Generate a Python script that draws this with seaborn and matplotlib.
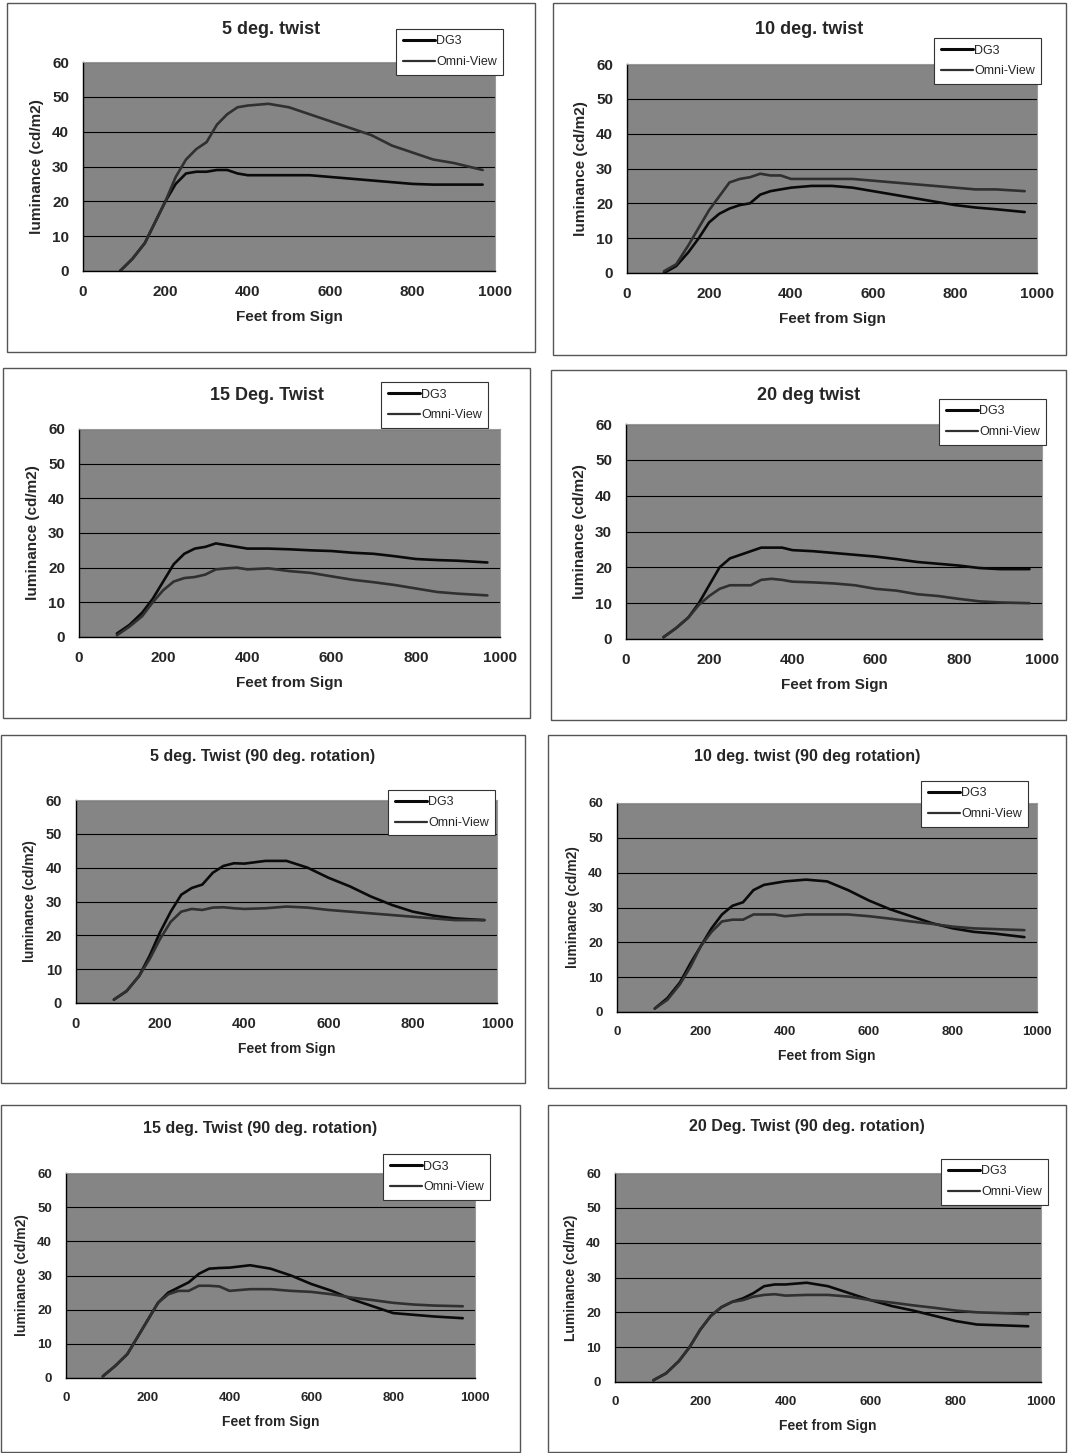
import numpy as np
import pandas as pd
import seaborn as sns
import matplotlib.pyplot as plt
from matplotlib.patches import Rectangle
from matplotlib.lines import Line2D

# distance from sign (ft), shared by every panel
feet = [90, 120, 150, 175, 200, 225, 250, 275, 300, 325, 350, 375,
        400, 450, 500, 550, 600, 650, 700, 750, 800, 850, 900, 970]

titles = ["5 deg. twist", "10 deg. twist", "15 Deg. Twist", "20 deg twist",
          "5 deg. Twist (90 deg. rotation)", "10 deg. twist (90 deg rotation)",
          "15 deg. Twist (90 deg. rotation)", "20 Deg. Twist (90 deg. rotation)"]
ylabels = ["luminance (cd/m2)"] * 7 + ["Luminance (cd/m2)"]

dg3_5 = [0, 3.5, 8, 14, 20, 25, 28, 28.5, 28.5, 29, 29, 28, 27.5, 27.5, 27.5, 27.5, 27, 26.5, 26, 25.5, 25, 24.8, 24.8, 24.8]
omni_5 = [0, 3.5, 8, 14, 20, 27, 32, 35, 37, 42, 45, 47, 47.5, 48, 47, 45, 43, 41, 39, 36, 34, 32, 31, 29]
dg3_10 = [0, 2, 6, 10, 14.5, 17, 18.5, 19.5, 20, 22.5, 23.5, 24, 24.5, 25, 25, 24.5, 23.5, 22.5, 21.5, 20.5, 19.5, 18.8, 18.3, 17.5]
omni_10 = [0.5, 2.5, 8, 13, 18, 22, 26, 27, 27.5, 28.5, 28, 28, 27, 27, 27, 27, 26.5, 26, 25.5, 25, 24.5, 24, 24, 23.5]
dg3_15 = [1, 3.5, 7, 11, 16, 21, 24, 25.5, 26, 27, 26.5, 26, 25.5, 25.5, 25.3, 25, 24.8, 24.3, 24, 23.3, 22.5, 22.2, 22, 21.5]
omni_15 = [0.5, 3, 6, 10, 13.5, 16, 17, 17.3, 18, 19.5, 19.8, 20, 19.5, 19.8, 19, 18.5, 17.5, 16.5, 15.8, 15, 14, 13, 12.5, 12]
dg3_20 = [0.5, 3, 6, 10, 15, 20, 22.5, 23.5, 24.5, 25.5, 25.5, 25.5, 24.8, 24.5, 24, 23.5, 23, 22.3, 21.5, 21, 20.5, 19.8, 19.5, 19.5]
omni_20 = [0.5, 3, 6, 9.5, 12, 14, 15, 15, 15, 16.5, 16.8, 16.5, 16, 15.8, 15.5, 15, 14, 13.5, 12.5, 12, 11.2, 10.5, 10.2, 10]
dg3_5r = [1, 3.5, 8, 14, 21, 27, 32, 34, 35, 38.5, 40.5, 41.3, 41.2, 42, 42, 40, 37, 34.5, 31.5, 29, 27, 25.8, 25, 24.5]
omni_5r = [1, 3.5, 8, 13, 19, 24, 27, 27.8, 27.5, 28.2, 28.3, 28, 27.8, 28, 28.5, 28.2, 27.5, 27, 26.5, 26, 25.5, 25, 24.5, 24.5]
dg3_10r = [1, 4, 8.5, 14, 19, 24, 28, 30.5, 31.5, 35, 36.5, 37, 37.5, 38, 37.5, 35, 32, 29.5, 27.5, 25.5, 24, 23, 22.5, 21.5]
omni_10r = [1, 3.5, 8, 13, 19, 23, 26, 26.5, 26.5, 28, 28, 28, 27.5, 28, 28, 28, 27.5, 26.8, 26, 25.3, 24.5, 24, 23.8, 23.5]
dg3_15r = [0.5, 3.5, 7, 12, 17, 22, 25, 26.5, 28, 30.5, 32, 32.2, 32.3, 33, 32, 30, 27.5, 25.5, 23, 21, 19, 18.5, 18, 17.5]
omni_15r = [0.5, 3.5, 7, 12, 17, 22, 24.5, 25.5, 25.5, 27, 27, 26.8, 25.5, 26, 26, 25.5, 25.2, 24.5, 23.5, 22.8, 22, 21.5, 21.2, 21]
dg3_20r = [0.5, 2.5, 6, 10, 15, 19, 21.5, 23, 24, 25.5, 27.5, 28, 28, 28.5, 27.5, 25.5, 23.5, 21.8, 20.5, 19, 17.5, 16.5, 16.3, 16]
omni_20r = [0.5, 2.5, 6, 10, 15, 19, 21.5, 23, 23.5, 24.5, 25, 25.2, 24.8, 25, 25, 24.5, 23.5, 22.8, 22, 21.3, 20.5, 20, 19.8, 19.5]

dg3_all = [dg3_5, dg3_10, dg3_15, dg3_20, dg3_5r, dg3_10r, dg3_15r, dg3_20r]
omni_all = [omni_5, omni_10, omni_15, omni_20, omni_5r, omni_10r, omni_15r, omni_20r]

sns.set_theme(style="white")
plt.rcParams['font.family'] = ['Liberation Sans', 'DejaVu Sans']

W, H = 1068, 1453
fig = plt.figure(figsize=(W / 100, H / 100), dpi=100)

# pixel layout: outer box, plot area, title y, legend top-left
boxes = [(7, 3, 535, 352), (553, 3, 1066, 355), (3, 368, 530, 718), (551, 370, 1066, 720),
         (1, 735, 525, 1083), (548, 735, 1066, 1088), (1, 1105, 520, 1452), (548, 1105, 1066, 1452)]
areas = [(83, 62, 495, 271), (627, 64, 1037, 273), (79, 429, 500, 637), (626, 424, 1042, 639),
         (76, 800, 497, 1003), (617, 803, 1037, 1012), (66, 1173, 475, 1378), (615, 1173, 1041, 1382)]
title_y = [30, 30, 395, 395, 757, 757, 1128, 1127]
legends = [(390, 23), (928, 32), (375, 376), (933, 393), (382, 784), (915, 775), (377, 1148), (935, 1153)]
title_fs = [13, 13, 13, 13, 11.5, 11.5, 11.5, 11.5]
tick_fs = [11, 11, 11, 11, 10.5, 9.5, 9.5, 9.5]
lab_fs = [11, 11, 11, 11, 10, 10, 10, 10]

colors = {"DG3": "#0a0a0a", "Omni-View": "#303030"}

for i in range(8):
    bx0, by0, bx1, by1 = boxes[i]
    fig.patches.append(Rectangle((bx0 / W, 1 - by1 / H), (bx1 - bx0) / W, (by1 - by0) / H,
                                 transform=fig.transFigure, fill=False, edgecolor="#555555", lw=1))
    x0, y0, x1, y1 = areas[i]
    ax = fig.add_axes([x0 / W, 1 - y1 / H, (x1 - x0) / W, (y1 - y0) / H])
    df = pd.DataFrame({
        "feet": feet * 2,
        "lum": dg3_all[i] + omni_all[i],
        "series": ["DG3"] * len(feet) + ["Omni-View"] * len(feet),
    })
    sns.lineplot(data=df, x="feet", y="lum", hue="series", palette=colors,
                 ax=ax, legend=False, linewidth=1.9)
    ax.set_facecolor("#858585")
    ax.set_xlim(0, 1000)
    ax.set_ylim(0, 60)
    ax.set_xticks(range(0, 1001, 200))
    ax.set_yticks(range(0, 61, 10))
    ax.grid(axis="y", color="black", lw=0.8)
    ax.set_axisbelow(True)
    for s in ["top", "right"]:
        ax.spines[s].set_color("#9a9a9a")
        ax.spines[s].set_linewidth(0.8)
    for s in ["left", "bottom"]:
        ax.spines[s].set_color("black")
        ax.spines[s].set_linewidth(1)
    ax.tick_params(axis="both", direction="out", length=4, width=1, color="black",
                   labelsize=tick_fs[i], pad=6)
    for lab in ax.get_xticklabels() + ax.get_yticklabels():
        lab.set_fontweight("bold")
    ax.set_xlabel("Feet from Sign", fontsize=lab_fs[i], fontweight="bold", labelpad=8)
    ax.set_ylabel(ylabels[i], fontsize=lab_fs[i], fontweight="bold", labelpad=6)

    cx = (bx0 + bx1) / 2
    fig.text(cx / W, 1 - title_y[i] / H, titles[i], ha="center", va="center",
             fontsize=title_fs[i], fontweight="bold")

    lx, ly = legends[i]
    handles = [Line2D([], [], color=colors["DG3"], lw=2.2),
               Line2D([], [], color=colors["Omni-View"], lw=1.6)]
    leg = ax.legend(handles, ["DG3", "Omni-View"], loc="upper left",
                    bbox_to_anchor=(lx / W, 1 - ly / H), bbox_transform=fig.transFigure,
                    fontsize=9, frameon=True, fancybox=False, framealpha=1,
                    handlelength=2.6, handletextpad=0.1, borderpad=0.5, labelspacing=0.7)
    leg.get_frame().set_edgecolor("#333333")
    leg.get_frame().set_linewidth(0.8)

fig.savefig("out.png", dpi=100)
